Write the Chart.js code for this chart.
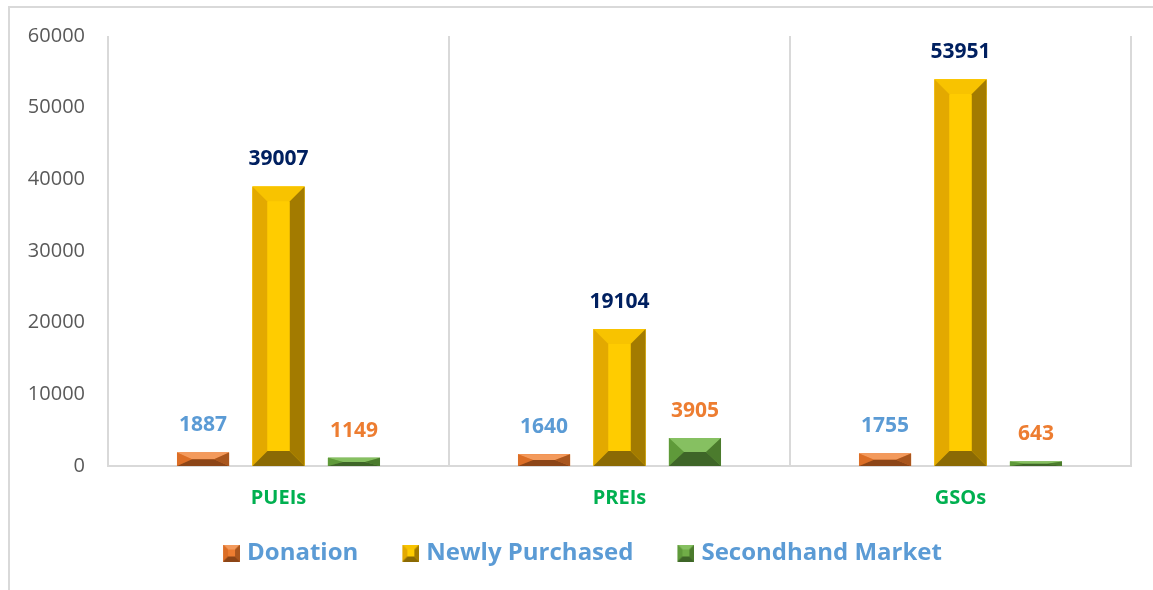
<!DOCTYPE html>
<html>
<head>
<meta charset="utf-8">
<script src="https://cdn.jsdelivr.net/npm/chart.js@4"></script>
<style>
  html, body { margin: 0; padding: 0; background: #fff; }
  #frame { position: absolute; left: 8px; top: 6px; width: 1160px; height: 600px;
           border-top: 2px solid #d9d9d9; border-left: 2px solid #d9d9d9; }
  #grafico { position: absolute; left: 0; top: 0; }
</style>
</head>
<body>
<div id="frame"></div>
<canvas id="grafico" width="1153" height="590"></canvas>
<script>
const categorias = ['PUEIs', 'PREIs', 'GSOs']
const doacao = [1887, 1640, 1755]
const compraNova = [39007, 19104, 53951]
const segundaMao = [1149, 3905, 643]
const yTicks = [0, 10000, 20000, 30000, 40000, 50000, 60000]

const fonte = "'Open Sans', 'Liberation Sans', sans-serif"

// tons do bisel: face, topo, esquerda, direita, base
const tons = {
  laranja: { face: '#ED7D31', top: '#F39A5C', left: '#DC6E26', right: '#A9561E', bottom: '#8C4517' },
  amarelo: { face: '#FFCC00', top: '#F8C300', left: '#E3A900', right: '#A37B00', bottom: '#8B6A04' },
  verde:   { face: '#70AD47', top: '#86C061', left: '#5F9A3A', right: '#4B7B2D', bottom: '#3E6528' }
}
const corRotulo = ['#5B9BD5', '#002060', '#ED7D31']

function poligono(ctx, pts, cor) {
  ctx.beginPath()
  ctx.moveTo(pts[0][0], pts[0][1])
  for (let i = 1; i < pts.length; i++) ctx.lineTo(pts[i][0], pts[i][1])
  ctx.closePath()
  ctx.fillStyle = cor
  ctx.fill()
}

function bisel(ctx, l, t, r, b, tom, tam) {
  const h = b - t, w = r - l
  const bx = Math.min(tam, w / 2), by = Math.min(tam, h / 2)
  const il = l + bx, ir = r - bx, it = t + by, ib = b - by
  poligono(ctx, [[l, t], [r, t], [r, b], [l, b]], tom.face)
  poligono(ctx, [[l, t], [r, t], [ir, it], [il, it]], tom.top)
  poligono(ctx, [[l, t], [il, it], [il, ib], [l, b]], tom.left)
  poligono(ctx, [[r, t], [r, b], [ir, ib], [ir, it]], tom.right)
  poligono(ctx, [[l, b], [il, ib], [ir, ib], [r, b]], tom.bottom)
  poligono(ctx, [[il, it], [ir, it], [ir, ib], [il, ib]], tom.face)
}

// marcador da legenda: canvas largo, quadrado encostado a direita (da o espaco entre itens)
function marcador(tom) {
  const c = document.createElement('canvas')
  c.width = 56
  c.height = 17
  const g = c.getContext('2d')
  bisel(g, 39, 0, 56, 17, tom, 5)
  return c
}

const listaTons = [tons.laranja, tons.amarelo, tons.verde]

const pluginBisel = {
  id: 'bisel',
  afterDatasetsDraw(chart) {
    const ctx = chart.ctx
    ctx.save()
    chart.data.datasets.forEach((ds, i) => {
      const meta = chart.getDatasetMeta(i)
      meta.data.forEach((el, j) => {
        const p = el.getProps(['x', 'y', 'base', 'width'], true)
        const l = p.x - p.width / 2, r = p.x + p.width / 2
        const t = Math.min(p.y, p.base), b = Math.max(p.y, p.base)
        bisel(ctx, l, t, r, b, listaTons[i], 15)

        ctx.fillStyle = corRotulo[i]
        ctx.font = 'bold 21px ' + fonte
        ctx.textAlign = 'center'
        ctx.textBaseline = 'middle'
        ctx.fillText(String(ds.data[j]), p.x, t - 27)
      })
    })
    ctx.restore()
  }
}

const ctx = document.getElementById('grafico')

new Chart(ctx, {
  type: 'bar',
  data: {
    labels: categorias,
    datasets: [
      { label: 'Donation', data: doacao, backgroundColor: tons.laranja.face },
      { label: 'Newly Purchased', data: compraNova, backgroundColor: tons.amarelo.face },
      { label: 'Secondhand Market', data: segundaMao, backgroundColor: tons.verde.face }
    ]
  },
  options: {
    responsive: false,
    animation: false,
    layout: { padding: { left: 0, top: 36, right: 22, bottom: 15 } },
    datasets: { bar: { categoryPercentage: 0.664, barPercentage: 0.69 } },
    scales: {
      x: {
        grid: { display: true, offset: true, color: '#d9d9d9', lineWidth: 2, drawTicks: false },
        border: { display: true, color: '#d9d9d9', width: 2 },
        ticks: { color: '#00B050', padding: 20, font: { family: fonte, size: 20, weight: 'bold' } },
        afterFit(s) { s.height = 65 }
      },
      y: {
        min: 0,
        max: 60000,
        afterBuildTicks(s) { s.ticks = yTicks.map(v => ({ value: v })) },
        grid: { display: false, drawTicks: false },
        border: { display: false },
        ticks: {
          color: '#595959',
          padding: 23,
          font: { family: fonte, size: 20 },
          callback: (v) => String(v)
        },
        afterFit(s) { s.width = 108 }
      }
    },
    plugins: {
      tooltip: { enabled: false },
      legend: {
        position: 'bottom',
        labels: {
          color: '#5B9BD5',
          font: { family: fonte, size: 24, weight: 'bold' },
          padding: 10,
          usePointStyle: true,
          pointStyleWidth: 46,
          boxHeight: 17,
          generateLabels(chart) {
            return chart.data.datasets.map((ds, i) => ({
              text: ds.label,
              pointStyle: marcador(listaTons[i]),
              fillStyle: ds.backgroundColor,
              strokeStyle: ds.backgroundColor,
              lineWidth: 0,
              fontColor: '#5B9BD5',
              datasetIndex: i,
              hidden: false
            }))
          }
        }
      }
    }
  },
  plugins: [pluginBisel]
})
</script>
</body>
</html>
